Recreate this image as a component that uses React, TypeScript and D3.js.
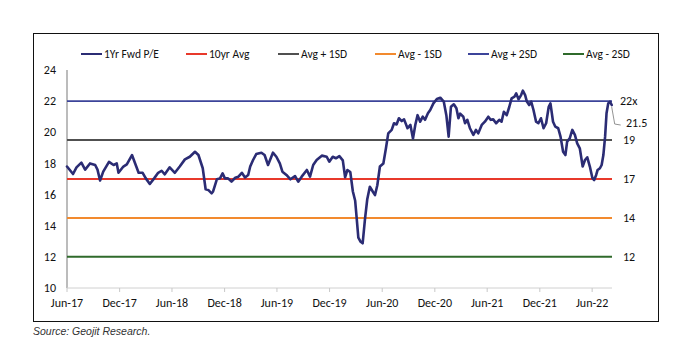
import React from "react";
import * as d3 from "d3";

const dates: string[] = [
  "2017-06-01","2017-06-22","2017-07-04","2017-07-21","2017-08-03","2017-08-20","2017-09-07","2017-09-15","2017-09-24","2017-10-05",
  "2017-10-25","2017-11-10","2017-11-21","2017-11-27","2017-12-14","2017-12-26","2018-01-13","2018-01-24","2018-02-05","2018-02-19",
  "2018-03-02","2018-03-16","2018-03-31","2018-04-14","2018-04-26","2018-05-07","2018-05-24","2018-06-11","2018-06-28","2018-07-16",
  "2018-08-02","2018-08-20","2018-09-01","2018-09-16","2018-09-26","2018-10-05","2018-10-17","2018-10-22","2018-11-04","2018-11-15",
  "2018-11-24","2018-12-02","2018-12-13","2018-12-25","2019-01-07","2019-01-18","2019-01-30","2019-02-10","2019-02-21","2019-02-28",
  "2019-03-10","2019-03-21","2019-04-08","2019-04-19","2019-05-01","2019-05-18","2019-05-30","2019-06-11","2019-06-20","2019-07-04",
  "2019-07-18","2019-08-03","2019-08-14","2019-08-26","2019-09-13","2019-09-24","2019-10-05","2019-10-17","2019-11-04","2019-11-21",
  "2019-11-30","2019-12-12","2019-12-23","2020-01-04","2020-01-16","2020-01-24","2020-02-01","2020-02-11","2020-02-20","2020-02-28",
  "2020-03-04","2020-03-10","2020-03-18","2020-03-25","2020-04-02","2020-04-10","2020-04-19","2020-04-29","2020-05-07","2020-05-15",
  "2020-05-24","2020-06-05","2020-06-14","2020-06-22","2020-07-04","2020-07-12","2020-07-21","2020-07-29","2020-08-08","2020-08-16",
  "2020-08-28","2020-09-07","2020-09-16","2020-09-24","2020-10-02","2020-10-11","2020-10-20","2020-10-28","2020-11-07","2020-11-15",
  "2020-11-26","2020-12-08","2020-12-20","2021-01-01","2021-01-10","2021-01-18","2021-01-26","2021-02-05","2021-02-14","2021-02-21",
  "2021-02-27","2021-03-10","2021-03-16","2021-03-24","2021-04-02","2021-04-14","2021-04-23","2021-05-01","2021-05-13","2021-05-24",
  "2021-06-05","2021-06-13","2021-06-22","2021-07-02","2021-07-13","2021-07-21","2021-07-29","2021-08-08","2021-08-17","2021-08-25",
  "2021-09-04","2021-09-10","2021-09-18","2021-09-27","2021-10-03","2021-10-11","2021-10-17","2021-10-25","2021-11-01","2021-11-09",
  "2021-11-18","2021-11-26","2021-12-05","2021-12-14","2021-12-23","2022-01-01","2022-01-07","2022-01-16","2022-01-24","2022-02-03",
  "2022-02-11","2022-02-20","2022-02-28","2022-03-06","2022-03-15","2022-03-24","2022-04-02","2022-04-10","2022-04-19","2022-04-29",
  "2022-05-07","2022-05-15","2022-05-24","2022-06-02","2022-06-08","2022-06-15","2022-06-20","2022-06-28","2022-07-04","2022-07-10",
  "2022-07-16","2022-07-21","2022-07-27","2022-08-02","2022-08-08"
];

const fwdPE: number[] = [
  17.8,17.32,17.75,18.05,17.6,18.0,17.9,17.6,16.9,17.47,
  18.1,17.9,18.0,17.4,17.8,17.94,18.54,18.0,17.4,17.4,
  17.04,16.68,17.04,17.4,17.53,17.3,17.75,17.4,17.8,18.26,
  18.43,18.75,18.54,17.69,16.34,16.3,16.08,16.2,16.98,17.04,
  17.36,17.04,17.04,16.83,17.08,17.15,17.4,17.1,17.26,17.8,
  18.22,18.6,18.69,18.54,17.9,18.69,18.43,18.0,17.47,17.26,
  16.98,17.19,16.83,17.15,17.58,17.15,17.9,18.22,18.5,18.43,
  18.11,18.43,18.33,18.47,18.2,17.11,17.58,17.45,16.2,15.6,
  14.53,13.24,12.97,12.87,14.4,15.7,16.5,16.2,15.97,16.6,
  17.8,18.0,18.97,19.93,20.15,20.58,20.5,20.9,20.72,20.83,
  20.26,20.47,19.6,20.47,21.1,20.68,21.0,20.8,21.22,21.43,
  21.86,22.14,22.22,21.97,21.1,19.72,21.64,21.8,21.54,20.9,
  21.2,21.0,20.58,20.8,20.26,19.83,20.15,19.93,20.47,20.68,
  21.0,20.8,20.83,20.58,20.8,20.68,21.32,21.1,21.64,22.18,
  22.29,22.5,22.12,22.39,22.67,22.39,21.97,21.75,21.97,21.43,
  20.68,20.58,20.9,20.26,20.58,21.64,21.86,20.68,20.36,20.26,
  19.72,18.75,18.54,19.4,19.61,20.15,19.83,19.29,18.97,17.8,
  18.22,18.39,17.8,17.05,16.93,17.26,17.58,17.69,17.9,18.54,
  19.72,21.22,21.86,21.97,21.75
];

const bandNames: string[] = ["10yr Avg", "Avg + 1SD", "Avg - 1SD", "Avg + 2SD", "Avg - 2SD"];
const bandValues: number[] = [17, 19.5, 14.5, 22, 12];
const bandLabels: string[] = ["17", "19", "14", "22x", "12"];
const legendNames: string[] = ["1Yr Fwd P/E", ...bandNames];
const yTicks: number[] = [10, 12, 14, 16, 18, 20, 22, 24];
const xTickDates: string[] = ["2017-06-01","2017-12-01","2018-06-01","2018-12-01","2019-06-01","2019-12-01","2020-06-01","2020-12-01","2021-06-01","2021-12-01","2022-06-01"];
const calloutLabel = "21.5";
const sourceText = "Source: Geojit Research.";

const seriesColor = "#2B2C74";
const bandColors: Record<string, string> = {
  "10yr Avg": "#E8392B",
  "Avg + 1SD": "#505050",
  "Avg - 1SD": "#F28A2E",
  "Avg + 2SD": "#3C449A",
  "Avg - 2SD": "#2F6A2B",
};
const bandWidths: Record<string, number> = {
  "10yr Avg": 2,
  "Avg + 1SD": 2,
  "Avg - 1SD": 2,
  "Avg + 2SD": 1.6,
  "Avg - 2SD": 2,
};
const FONT = "Carlito, Lato, 'Open Sans', sans-serif";

export default function App() {
  const W = 693, H = 359;
  const parse = d3.timeParse("%Y-%m-%d");
  const xs = dates.map((d) => parse(d) as Date);
  const x = d3.scaleTime()
    .domain([parse("2017-06-01") as Date, parse("2022-08-09") as Date])
    .range([67, 612]);
  const y = d3.scaleLinear().domain([10, 24]).range([288, 70]);
  const line = d3.line<number>()
    .x((_, i) => x(xs[i]))
    .y((v) => y(v))
    .curve(d3.curveLinear);
  const fmt = d3.timeFormat("%b-%y");
  const legendLineX = [81, 186, 278, 375, 468, 563];
  const legendColors = [seriesColor, ...bandNames.map((n) => bandColors[n])];
  const lastX = x(xs[xs.length - 1]);
  const lastY = y(fwdPE[fwdPE.length - 1]);

  return (
    <svg width={W} height={H} style={{ position: "absolute", left: 0, top: 0, background: "#fff" }}>
      <rect x={33.5} y={33.5} width={625} height={288} fill="#fff" stroke="#111" strokeWidth={1} />
      {/* legend */}
      {legendNames.map((n, i) => (
        <g key={n}>
          <line x1={legendLineX[i]} x2={legendLineX[i] + 21} y1={54} y2={54} stroke={legendColors[i]} strokeWidth={2} />
          <text x={legendLineX[i] + 23} y={54} dy="0.35em" fontSize={11.5} fontFamily={FONT} fill="#111">{n}</text>
        </g>
      ))}
      {/* y axis */}
      <line x1={67} x2={67} y1={y(24)} y2={y(10)} stroke="#A6A6A6" strokeWidth={1.5} />
      {yTicks.map((t) => (
        <text key={t} x={56} y={y(t)} dy="0.35em" textAnchor="end" fontSize={12} fontFamily={FONT} fill="#111">{t}</text>
      ))}
      {/* x axis */}
      <line x1={67} x2={612} y1={y(10)} y2={y(10)} stroke="#D0D0D0" strokeWidth={1} />
      {xTickDates.map((d) => {
        const dt = parse(d) as Date;
        return (
          <g key={d}>
            <line x1={x(dt)} x2={x(dt)} y1={y(10)} y2={y(10) + 4} stroke="#C8C8C8" strokeWidth={1} />
            <text x={x(dt)} y={303} dy="0.35em" textAnchor="middle" fontSize={12} fontFamily={FONT} fill="#111">{fmt(dt)}</text>
          </g>
        );
      })}
      {/* band lines */}
      {bandNames.map((n, i) => (
        <g key={n}>
          <line x1={67} x2={612} y1={y(bandValues[i])} y2={y(bandValues[i])} stroke={bandColors[n]} strokeWidth={bandWidths[n]} />
          <text x={bandLabels[i].endsWith("x") ? 620 : 623} y={y(bandValues[i])} dy="0.35em" fontSize={12} fontFamily={FONT} fill="#111">{bandLabels[i]}</text>
        </g>
      ))}
      {/* series */}
      <path d={line(fwdPE) || ""} fill="none" stroke={seriesColor} strokeWidth={2.6} strokeLinejoin="round" strokeLinecap="round" />
      {/* callout */}
      <polyline points={`${lastX},${lastY + 2} ${lastX + 3},${lastY + 19} ${lastX + 9},${lastY + 20}`} fill="none" stroke="#777" strokeWidth={0.8} />
      <text x={626} y={123} dy="0.35em" fontSize={12} fontFamily={FONT} fill="#111">{calloutLabel}</text>
      {/* source */}
      <text x={33} y={331} dy="0.35em" fontSize={10.5} fontStyle="italic" fontFamily="'Liberation Sans', Arial, sans-serif" fill="#333">{sourceText}</text>
    </svg>
  );
}
